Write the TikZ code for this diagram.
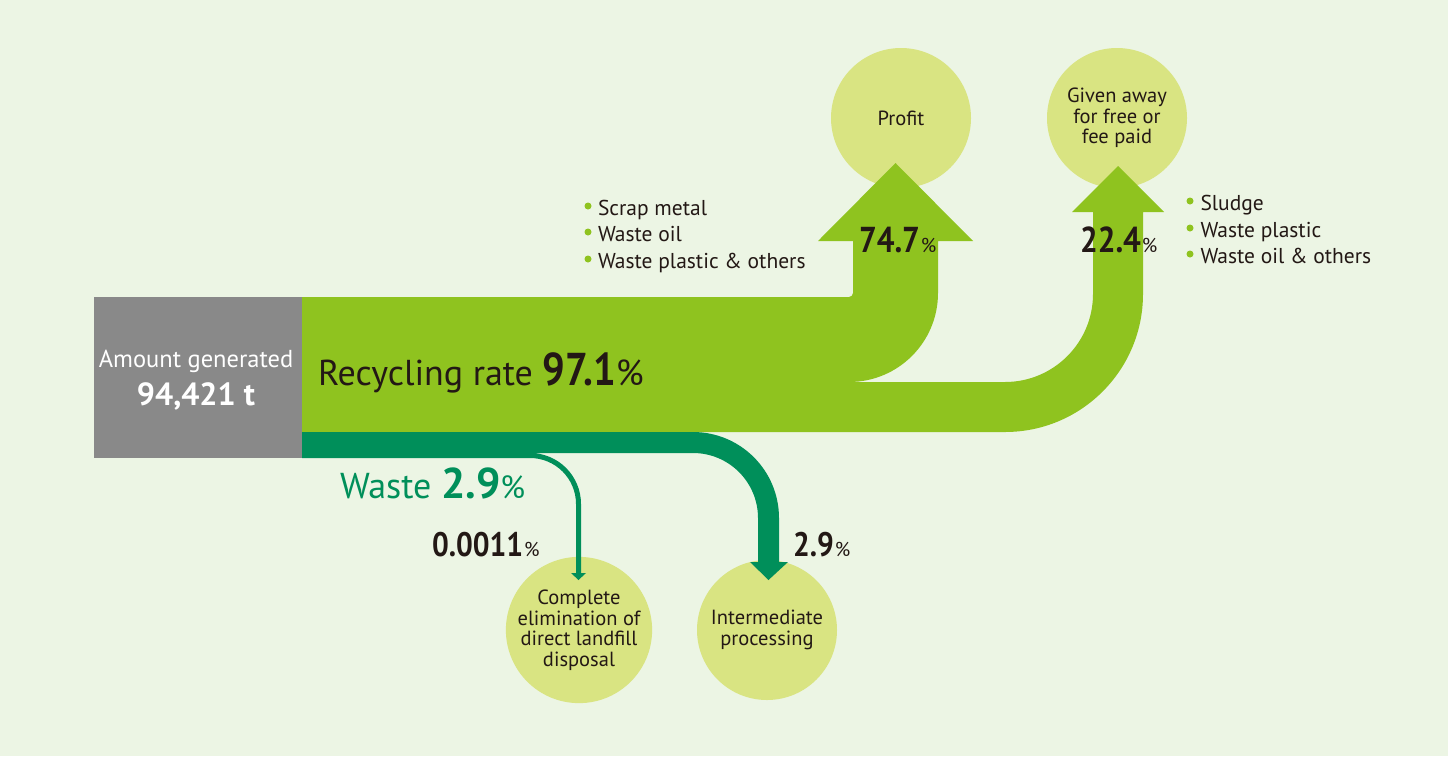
\documentclass[tikz,border=0pt]{standalone}
\usepackage{fontspec}
\setmainfont{PT Sans}
\newfontfamily\numf{PT Sans}[FakeStretch=0.87]
\definecolor{bgc}{RGB}{236,245,228}
\definecolor{lg}{RGB}{143,195,31}
\definecolor{circc}{RGB}{217,228,130}
\definecolor{dg}{RGB}{0,143,90}
\definecolor{grayc}{RGB}{137,137,137}
\definecolor{ink}{RGB}{35,24,21}
\newcommand{\fsz}[2]{\fontsize{#1}{#2}\selectfont}
\begin{document}
\begin{tikzpicture}[x=1pt,y=-1pt,
  txt/.style={inner sep=0pt, outer sep=0pt, text=ink},
  bubble/.style={circle, fill=circc, minimum size=140pt, inner sep=0pt, align=center, text=ink, font=\fsz{20.5}{20.5}},
  dot/.style={circle, fill=lg, minimum size=7pt, inner sep=0pt}]
\useasboundingbox (0,0) rectangle (1448,756);
\fill[bgc] (0,0) rectangle (1448,756);

% circles
\node[bubble] (profit) at (901,118) {Profit};
\node[bubble] (given) at (1117,118) {Given away\\for free or\\fee paid};
\node[bubble] (landfill) at (579,630) {Complete\\elimination of\\direct landfill\\disposal};
\node[bubble] (interm) at (767,630) {Intermediate\\processing};

% recycling stream (light green)
\fill[lg] (302,297) -- (849,297) .. controls (851.2,297) and (853,295.2) .. (853,293)
  -- (853,241) -- (818,241) -- (895.5,163) -- (973,241) -- (938,241) -- (938,293)
  .. controls (938,342.2) and (898.2,382) .. (849,382)
  -- (1005,382) .. controls (1053.6,382) and (1093,342.6) .. (1093,294)
  -- (1093,212) -- (1072,212) -- (1118,166) -- (1164,212) -- (1143,212) -- (1143,294)
  .. controls (1143,370.2) and (1081.2,432) .. (1005,432)
  -- (302,432) -- cycle;

% waste stream (dark green)
\fill[dg] (302,432) -- (693,432) .. controls (740.5,432) and (779,470.5) .. (779,518)
  -- (779,562) -- (788,562) -- (768.5,580) -- (750,562) -- (758,562) -- (758,518)
  .. controls (758,482.1) and (728.9,453) .. (693,453)
  -- (530,453) .. controls (558.2,453) and (581,475.8) .. (581,504)
  -- (581,573) -- (586,573) -- (578.5,580) -- (571,573) -- (576,573) -- (576,504)
  .. controls (576,478.6) and (555.4,458) .. (530,458)
  -- (302,458) -- cycle;

% amount generated box
\node[fill=grayc, minimum width=208pt, minimum height=161pt, anchor=north west, inner sep=0pt, outer sep=0pt] (gen) at (94,297) {};
\node[txt, anchor=base, text=white] (genA) at (196,367) {\fsz{24.5}{24.5}Amount generated};
\node[txt, anchor=base, text=white] (genB) at (196,405) {\bfseries\fsz{32}{32}94,421 t};

% main labels
\node[txt, anchor=base west] (recyc) at (318,385) {\fsz{36}{36}Recycling rate {\numf\bfseries\fsz{46}{46}97.1}{\fsz{36}{36}\%}};
\node[txt, anchor=base west, text=dg] (waste) at (340,498) {\fsz{36}{36}Waste {\bfseries\fsz{43}{43}2.9}{\fsz{32}{32}\%}};

% percentages
\node[txt, anchor=base west] (p747) at (859,252) {{\numf\bfseries\fsz{36}{36}74.7}\hspace{1pt}{\fsz{20}{20}\%}};
\node[txt, anchor=base west] (p224) at (1080,252) {{\numf\bfseries\fsz{36}{36}22.4}\hspace{1pt}{\fsz{20}{20}\%}};
\node[txt, anchor=base west] (p0011) at (432,556) {{\numf\bfseries\fsz{34}{34}0.0011}\hspace{1pt}{\fsz{20}{20}\%}};
\node[txt, anchor=base west] (p29) at (793,556) {{\numf\bfseries\fsz{34}{34}2.9}\hspace{1pt}{\fsz{20}{20}\%}};

% left bullet list
\node[dot] (bl1) at (588,206) {};
\node[dot] (bl2) at (588,232) {};
\node[dot] (bl3) at (588,259) {};
\node[txt, anchor=base west] (l1) at (598,215) {\fsz{21.5}{21.5}Scrap metal};
\node[txt, anchor=base west] (l2) at (598,241) {\fsz{21.5}{21.5}Waste oil};
\node[txt, anchor=base west] (l3) at (598,268) {\fsz{21.5}{21.5}Waste plastic \& others};

% right bullet list
\node[dot] (br1) at (1190,201) {};
\node[dot] (br2) at (1190,228) {};
\node[dot] (br3) at (1190,254) {};
\node[txt, anchor=base west] (r1) at (1200.5,210) {\fsz{21.5}{21.5}Sludge};
\node[txt, anchor=base west] (r2) at (1200.5,237) {\fsz{21.5}{21.5}Waste plastic};
\node[txt, anchor=base west] (r3) at (1200.5,263) {\fsz{21.5}{21.5}Waste oil \& others};
\end{tikzpicture}
\end{document}
